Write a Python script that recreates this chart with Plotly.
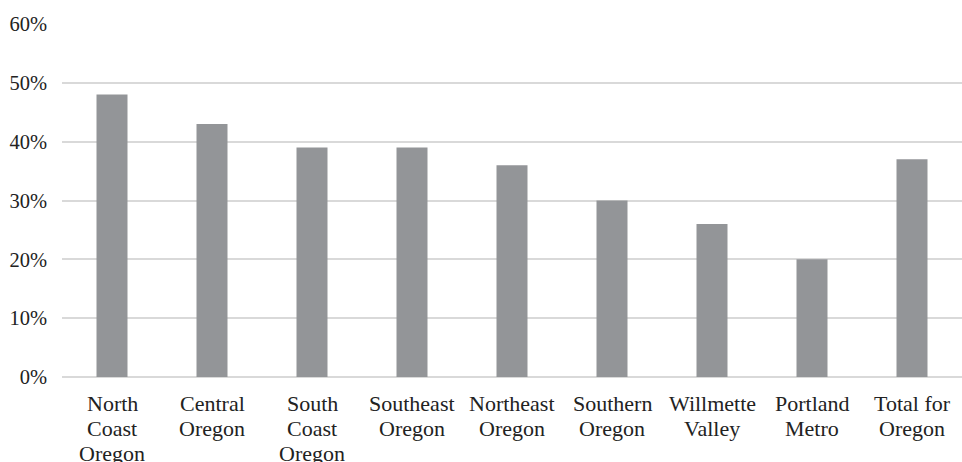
import plotly.graph_objects as go

categories = ["North<br>Coast<br>Oregon", "Central<br>Oregon", "South<br>Coast<br>Oregon",
              "Southeast<br>Oregon", "Northeast<br>Oregon", "Southern<br>Oregon",
              "Willmette<br>Valley", "Portland<br>Metro", "Total for<br>Oregon"]
values = [0.48, 0.43, 0.39, 0.39, 0.36, 0.30, 0.26, 0.20, 0.37]
y_ticks = [0, 0.1, 0.2, 0.3, 0.4, 0.5, 0.6]
y_labels = ["0%", "10%", "20%", "30%", "40%", "50%", "60%"]

fig = go.Figure(go.Bar(x=categories, y=values, marker=dict(color="#939598", line=dict(width=0))))

family = "'Times New Roman', 'Liberation Serif', serif"
yfont = dict(family=family, size=20.5, color="#222222")
xfont = dict(family=family, size=22, color="#222222")

# category labels: one annotation per line to get the tighter line spacing of the original
annotations = []
for cat in categories:
    for j, line in enumerate(cat.split("<br>")):
        annotations.append(dict(x=cat, xref="x", y=0, yref="paper", yanchor="top",
                                text=line, showarrow=False, font=xfont,
                                yshift=-(12 + 25 * j)))

fig.update_layout(
    width=962, height=462,
    margin=dict(l=62, r=0, t=24, b=85),
    paper_bgcolor="white", plot_bgcolor="white",
    bargap=0.69, showlegend=False, font=yfont,
    annotations=annotations,
)
fig.update_xaxes(showgrid=False, showline=False, ticks="", showticklabels=False, automargin=False)
fig.update_yaxes(range=[0, 0.6], tickvals=y_ticks, ticktext=y_labels, showgrid=True,
                 gridcolor="#d9d9d9", gridwidth=2, zeroline=True, zerolinecolor="#d9d9d9",
                 zerolinewidth=2, showline=False, ticks="", tickfont=yfont, ticklabelstandoff=14,
                 automargin=False)
fig.write_html("out.html")
